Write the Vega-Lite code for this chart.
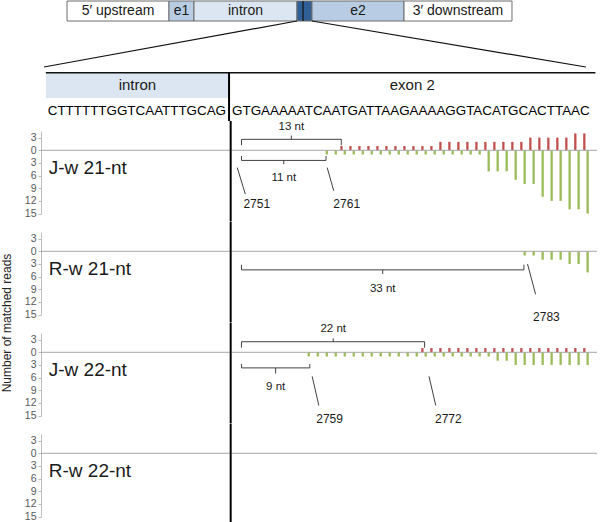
{
  "$schema": "https://vega.github.io/schema/vega-lite/v6.json",
  "padding": 0,
  "spacing": 0,
  "bounds": "flush",
  "config": {
    "view": {"stroke": null},
    "font": "Liberation Sans",
    "text": {"font": "Liberation Sans"}
  },
  "vconcat": [
    {
      "width": 556,
      "height": 70,
      "data": {"values": [
        {"region": "5′ upstream", "type": "flank", "start": 4.68, "end": 23.02},
        {"region": "e1", "type": "exon", "start": 23.02, "end": 27.52},
        {"region": "intron", "type": "intron", "start": 27.52, "end": 46.04},
        {"region": "", "type": "focus", "start": 46.04, "end": 48.74},
        {"region": "e2", "type": "exon", "start": 48.74, "end": 65.29},
        {"region": "3′ downstream", "type": "flank", "start": 65.29, "end": 84.71}
      ]},
      "layer": [
        {
          "mark": {"type": "rect", "stroke": "#6d6d6d", "strokeWidth": 1},
          "encoding": {
            "x": {"field": "start", "type": "quantitative", "scale": {"domain": [0, 100], "nice": false, "zero": false}, "axis": null},
            "x2": {"field": "end"},
            "y": {"datum": 0.714, "type": "quantitative", "scale": {"domain": [0, 1], "nice": false}, "axis": null},
            "y2": {"datum": 1},
            "color": {"field": "type", "type": "nominal", "scale": {"domain": ["flank", "exon", "intron", "focus"], "range": ["#ffffff", "#b8cce4", "#dce6f2", "#2f5f94"]}, "legend": null}
          }
        },
        {
          "transform": [{"calculate": "(datum.start + datum.end) / 2", "as": "mid"}],
          "mark": {"type": "text", "fontSize": 14, "color": "#1a1a1a"},
          "encoding": {
            "x": {"field": "mid", "type": "quantitative"},
            "y": {"datum": 0.857, "type": "quantitative"},
            "text": {"field": "region"}
          }
        },
        {
          "data": {"values": [
            {"x": 47.12, "x2": 47.12, "y": 0.714, "y2": 1},
            {"x": 46.04, "x2": 0.54, "y": 0.714, "y2": 0.057},
            {"x": 48.74, "x2": 98.0, "y": 0.714, "y2": 0.057}
          ]},
          "mark": {"type": "rule", "color": "#111111", "strokeWidth": 1.2},
          "encoding": {
            "x": {"field": "x", "type": "quantitative"},
            "x2": {"field": "x2"},
            "y": {"field": "y", "type": "quantitative"},
            "y2": {"field": "y2"}
          }
        }
      ]
    },
    {
      "width": 556,
      "height": 50,
      "data": {"values": [
        {"region": "intron", "start": 2730.5, "end": 2750.5, "seq": "CTTTTTTGGTCAATTTGCAG"},
        {"region": "exon 2", "start": 2750.5, "end": 2790.5, "seq": "GTGAAAAATCAATGATTAAGAAAAGGTACATGCACTTAAC"}
      ]},
      "layer": [
        {
          "mark": {"type": "rect"},
          "encoding": {
            "x": {"field": "start", "type": "quantitative", "scale": {"domain": [2729.97, 2790.67], "nice": false, "zero": false}, "axis": null},
            "x2": {"field": "end"},
            "y": {"datum": 0.46, "type": "quantitative", "scale": {"domain": [0, 1], "nice": false}, "axis": null},
            "y2": {"datum": 0.966},
            "color": {"field": "region", "type": "nominal", "scale": {"domain": ["intron", "exon 2"], "range": ["#dce6f2", "#b9cde5"]}, "legend": null}
          }
        },
        {
          "transform": [{"calculate": "(datum.start + datum.end) / 2", "as": "mid"}],
          "mark": {"type": "text", "fontSize": 15, "color": "#1a1a1a"},
          "encoding": {
            "x": {"field": "mid", "type": "quantitative"},
            "y": {"datum": 0.713, "type": "quantitative"},
            "text": {"field": "region"}
          }
        },
        {
          "transform": [{"filter": "datum.region == 'intron'"}],
          "mark": {"type": "text", "fontSize": 13.4, "align": "right", "dx": -3, "color": "#000000"},
          "encoding": {
            "x": {"field": "end", "type": "quantitative"},
            "y": {"datum": 0.2, "type": "quantitative"},
            "text": {"field": "seq"}
          }
        },
        {
          "transform": [{"filter": "datum.region == 'exon 2'"}],
          "mark": {"type": "text", "fontSize": 13.4, "align": "left", "dx": 3, "color": "#000000"},
          "encoding": {
            "x": {"field": "start", "type": "quantitative"},
            "y": {"datum": 0.2, "type": "quantitative"},
            "text": {"field": "seq"}
          }
        },
        {
          "mark": {"type": "rule", "color": "#111111", "strokeWidth": 1.5},
          "encoding": {
            "x": {"field": "start", "type": "quantitative"},
            "x2": {"field": "end"},
            "y": {"datum": 0.966, "type": "quantitative"}
          }
        },
        {
          "transform": [{"filter": "datum.region == 'intron'"}],
          "mark": {"type": "rule", "color": "#000000", "strokeWidth": 2},
          "encoding": {
            "x": {"field": "end", "type": "quantitative"},
            "y": {"datum": 0.966, "type": "quantitative"},
            "y2": {"datum": 0}
          }
        }
      ]
    },
    {
      "data": {"values": [
        {"kind": "label", "panel": "J-w 21-nt", "pos": 2730.5, "v": -4.3, "text": "J-w 21-nt"},
        {"kind": "label", "panel": "R-w 21-nt", "pos": 2730.5, "v": -4.3, "text": "R-w 21-nt"},
        {"kind": "label", "panel": "J-w 22-nt", "pos": 2730.5, "v": -4.3, "text": "J-w 22-nt"},
        {"kind": "label", "panel": "R-w 22-nt", "pos": 2730.5, "v": -4.3, "text": "R-w 22-nt"},

        {"kind": "seg", "panel": "J-w 21-nt", "pos": 2751.7, "pos2": 2762.8, "v": 2.6, "v2": 2.6},
        {"kind": "seg", "panel": "J-w 21-nt", "pos": 2751.7, "pos2": 2751.7, "v": 2.6, "v2": 1.2},
        {"kind": "seg", "panel": "J-w 21-nt", "pos": 2762.8, "pos2": 2762.8, "v": 2.6, "v2": 1.2},
        {"kind": "seg", "panel": "J-w 21-nt", "pos": 2757.25, "pos2": 2757.25, "v": 2.6, "v2": 3.5},
        {"kind": "seg", "panel": "J-w 21-nt", "pos": 2751.7, "pos2": 2761.1, "v": -2.4, "v2": -2.4},
        {"kind": "seg", "panel": "J-w 21-nt", "pos": 2751.7, "pos2": 2751.7, "v": -2.4, "v2": -1.35},
        {"kind": "seg", "panel": "J-w 21-nt", "pos": 2761.1, "pos2": 2761.1, "v": -2.4, "v2": -1.35},
        {"kind": "seg", "panel": "J-w 21-nt", "pos": 2756.4, "pos2": 2756.4, "v": -2.4, "v2": -3.3},
        {"kind": "seg", "panel": "J-w 21-nt", "pos": 2751.23, "pos2": 2752.13, "v": -4.1, "v2": -10.4},
        {"kind": "seg", "panel": "J-w 21-nt", "pos": 2761.23, "pos2": 2761.96, "v": -4.1, "v2": -9.6},
        {"kind": "nt", "panel": "J-w 21-nt", "pos": 2757.25, "v": 5.4, "text": "13 nt"},
        {"kind": "nt", "panel": "J-w 21-nt", "pos": 2756.4, "v": -6.5, "text": "11 nt"},
        {"kind": "num", "panel": "J-w 21-nt", "pos": 2753.4, "v": -12.7, "text": "2751"},
        {"kind": "num", "panel": "J-w 21-nt", "pos": 2763.4, "v": -12.7, "text": "2761"},

        {"kind": "seg", "panel": "R-w 21-nt", "pos": 2751.7, "pos2": 2783.1, "v": -4.4, "v2": -4.4},
        {"kind": "seg", "panel": "R-w 21-nt", "pos": 2751.7, "pos2": 2751.7, "v": -4.4, "v2": -3.2},
        {"kind": "seg", "panel": "R-w 21-nt", "pos": 2783.1, "pos2": 2783.1, "v": -4.4, "v2": -3.2},
        {"kind": "seg", "panel": "R-w 21-nt", "pos": 2767.4, "pos2": 2767.4, "v": -4.4, "v2": -5.4},
        {"kind": "seg", "panel": "R-w 21-nt", "pos": 2783.5, "pos2": 2784.4, "v": -3.0, "v2": -10.2},
        {"kind": "nt", "panel": "R-w 21-nt", "pos": 2767.4, "v": -8.9, "text": "33 nt"},
        {"kind": "num", "panel": "R-w 21-nt", "pos": 2785.6, "v": -15.5, "text": "2783"},

        {"kind": "seg", "panel": "J-w 22-nt", "pos": 2751.7, "pos2": 2772.06, "v": 2.5, "v2": 2.5},
        {"kind": "seg", "panel": "J-w 22-nt", "pos": 2751.7, "pos2": 2751.7, "v": 2.5, "v2": 1.1},
        {"kind": "seg", "panel": "J-w 22-nt", "pos": 2772.06, "pos2": 2772.06, "v": 2.5, "v2": 1.1},
        {"kind": "seg", "panel": "J-w 22-nt", "pos": 2761.9, "pos2": 2761.9, "v": 2.5, "v2": 3.3},
        {"kind": "seg", "panel": "J-w 22-nt", "pos": 2751.7, "pos2": 2759.3, "v": -3.7, "v2": -3.7},
        {"kind": "seg", "panel": "J-w 22-nt", "pos": 2751.7, "pos2": 2751.7, "v": -3.7, "v2": -2.8},
        {"kind": "seg", "panel": "J-w 22-nt", "pos": 2759.3, "pos2": 2759.3, "v": -3.7, "v2": -2.8},
        {"kind": "seg", "panel": "J-w 22-nt", "pos": 2755.5, "pos2": 2755.5, "v": -3.7, "v2": -5.0},
        {"kind": "seg", "panel": "J-w 22-nt", "pos": 2759.56, "pos2": 2760.3, "v": -5.7, "v2": -12.6},
        {"kind": "seg", "panel": "J-w 22-nt", "pos": 2772.55, "pos2": 2773.3, "v": -5.7, "v2": -12.6},
        {"kind": "nt", "panel": "J-w 22-nt", "pos": 2761.9, "v": 5.6, "text": "22 nt"},
        {"kind": "nt", "panel": "J-w 22-nt", "pos": 2755.5, "v": -8.2, "text": "9 nt"},
        {"kind": "num", "panel": "J-w 22-nt", "pos": 2761.5, "v": -15.9, "text": "2759"},
        {"kind": "num", "panel": "J-w 22-nt", "pos": 2774.7, "v": -15.9, "text": "2772"},

        {"kind": "bar", "panel": "J-w 21-nt", "pos": 2761, "v": -1},
        {"kind": "bar", "panel": "J-w 21-nt", "pos": 2762, "v": -1},
        {"kind": "bar", "panel": "J-w 21-nt", "pos": 2763, "v": -1},
        {"kind": "bar", "panel": "J-w 21-nt", "pos": 2764, "v": -1},
        {"kind": "bar", "panel": "J-w 21-nt", "pos": 2765, "v": -1},
        {"kind": "bar", "panel": "J-w 21-nt", "pos": 2766, "v": -1},
        {"kind": "bar", "panel": "J-w 21-nt", "pos": 2767, "v": -1},
        {"kind": "bar", "panel": "J-w 21-nt", "pos": 2768, "v": -1},
        {"kind": "bar", "panel": "J-w 21-nt", "pos": 2769, "v": -1},
        {"kind": "bar", "panel": "J-w 21-nt", "pos": 2770, "v": -1},
        {"kind": "bar", "panel": "J-w 21-nt", "pos": 2771, "v": -1},
        {"kind": "bar", "panel": "J-w 21-nt", "pos": 2772, "v": -1},
        {"kind": "bar", "panel": "J-w 21-nt", "pos": 2773, "v": -1},
        {"kind": "bar", "panel": "J-w 21-nt", "pos": 2774, "v": -1},
        {"kind": "bar", "panel": "J-w 21-nt", "pos": 2775, "v": -1},
        {"kind": "bar", "panel": "J-w 21-nt", "pos": 2776, "v": -1},
        {"kind": "bar", "panel": "J-w 21-nt", "pos": 2777, "v": -1},
        {"kind": "bar", "panel": "J-w 21-nt", "pos": 2778, "v": -1},
        {"kind": "bar", "panel": "J-w 21-nt", "pos": 2779, "v": -5},
        {"kind": "bar", "panel": "J-w 21-nt", "pos": 2780, "v": -5},
        {"kind": "bar", "panel": "J-w 21-nt", "pos": 2781, "v": -5},
        {"kind": "bar", "panel": "J-w 21-nt", "pos": 2782, "v": -7},
        {"kind": "bar", "panel": "J-w 21-nt", "pos": 2783, "v": -8},
        {"kind": "bar", "panel": "J-w 21-nt", "pos": 2784, "v": -8},
        {"kind": "bar", "panel": "J-w 21-nt", "pos": 2785, "v": -11},
        {"kind": "bar", "panel": "J-w 21-nt", "pos": 2786, "v": -12},
        {"kind": "bar", "panel": "J-w 21-nt", "pos": 2787, "v": -12},
        {"kind": "bar", "panel": "J-w 21-nt", "pos": 2788, "v": -14},
        {"kind": "bar", "panel": "J-w 21-nt", "pos": 2789, "v": -14},
        {"kind": "bar", "panel": "J-w 21-nt", "pos": 2790, "v": -15},
        {"kind": "bar", "panel": "J-w 21-nt", "pos": 2763, "v": 1},
        {"kind": "bar", "panel": "J-w 21-nt", "pos": 2764, "v": 1},
        {"kind": "bar", "panel": "J-w 21-nt", "pos": 2765, "v": 1},
        {"kind": "bar", "panel": "J-w 21-nt", "pos": 2766, "v": 1},
        {"kind": "bar", "panel": "J-w 21-nt", "pos": 2767, "v": 1},
        {"kind": "bar", "panel": "J-w 21-nt", "pos": 2768, "v": 1},
        {"kind": "bar", "panel": "J-w 21-nt", "pos": 2769, "v": 1},
        {"kind": "bar", "panel": "J-w 21-nt", "pos": 2770, "v": 1},
        {"kind": "bar", "panel": "J-w 21-nt", "pos": 2771, "v": 1},
        {"kind": "bar", "panel": "J-w 21-nt", "pos": 2772, "v": 1},
        {"kind": "bar", "panel": "J-w 21-nt", "pos": 2773, "v": 1},
        {"kind": "bar", "panel": "J-w 21-nt", "pos": 2774, "v": 2},
        {"kind": "bar", "panel": "J-w 21-nt", "pos": 2775, "v": 2},
        {"kind": "bar", "panel": "J-w 21-nt", "pos": 2776, "v": 2},
        {"kind": "bar", "panel": "J-w 21-nt", "pos": 2777, "v": 2},
        {"kind": "bar", "panel": "J-w 21-nt", "pos": 2778, "v": 2},
        {"kind": "bar", "panel": "J-w 21-nt", "pos": 2779, "v": 2},
        {"kind": "bar", "panel": "J-w 21-nt", "pos": 2780, "v": 2},
        {"kind": "bar", "panel": "J-w 21-nt", "pos": 2781, "v": 2},
        {"kind": "bar", "panel": "J-w 21-nt", "pos": 2782, "v": 2},
        {"kind": "bar", "panel": "J-w 21-nt", "pos": 2783, "v": 2},
        {"kind": "bar", "panel": "J-w 21-nt", "pos": 2784, "v": 3},
        {"kind": "bar", "panel": "J-w 21-nt", "pos": 2785, "v": 3},
        {"kind": "bar", "panel": "J-w 21-nt", "pos": 2786, "v": 3},
        {"kind": "bar", "panel": "J-w 21-nt", "pos": 2787, "v": 3},
        {"kind": "bar", "panel": "J-w 21-nt", "pos": 2788, "v": 3},
        {"kind": "bar", "panel": "J-w 21-nt", "pos": 2789, "v": 4},
        {"kind": "bar", "panel": "J-w 21-nt", "pos": 2790, "v": 4},

        {"kind": "bar", "panel": "R-w 21-nt", "pos": 2783, "v": -1},
        {"kind": "bar", "panel": "R-w 21-nt", "pos": 2784, "v": -1},
        {"kind": "bar", "panel": "R-w 21-nt", "pos": 2785, "v": -2},
        {"kind": "bar", "panel": "R-w 21-nt", "pos": 2786, "v": -2},
        {"kind": "bar", "panel": "R-w 21-nt", "pos": 2787, "v": -2},
        {"kind": "bar", "panel": "R-w 21-nt", "pos": 2788, "v": -3},
        {"kind": "bar", "panel": "R-w 21-nt", "pos": 2789, "v": -3},
        {"kind": "bar", "panel": "R-w 21-nt", "pos": 2790, "v": -5},

        {"kind": "bar", "panel": "J-w 22-nt", "pos": 2759, "v": -1},
        {"kind": "bar", "panel": "J-w 22-nt", "pos": 2760, "v": -1},
        {"kind": "bar", "panel": "J-w 22-nt", "pos": 2761, "v": -1},
        {"kind": "bar", "panel": "J-w 22-nt", "pos": 2762, "v": -1},
        {"kind": "bar", "panel": "J-w 22-nt", "pos": 2763, "v": -1},
        {"kind": "bar", "panel": "J-w 22-nt", "pos": 2764, "v": -1},
        {"kind": "bar", "panel": "J-w 22-nt", "pos": 2765, "v": -1},
        {"kind": "bar", "panel": "J-w 22-nt", "pos": 2766, "v": -1},
        {"kind": "bar", "panel": "J-w 22-nt", "pos": 2767, "v": -1},
        {"kind": "bar", "panel": "J-w 22-nt", "pos": 2768, "v": -1},
        {"kind": "bar", "panel": "J-w 22-nt", "pos": 2769, "v": -1},
        {"kind": "bar", "panel": "J-w 22-nt", "pos": 2770, "v": -1},
        {"kind": "bar", "panel": "J-w 22-nt", "pos": 2771, "v": -1},
        {"kind": "bar", "panel": "J-w 22-nt", "pos": 2772, "v": -1},
        {"kind": "bar", "panel": "J-w 22-nt", "pos": 2773, "v": -1},
        {"kind": "bar", "panel": "J-w 22-nt", "pos": 2774, "v": -1},
        {"kind": "bar", "panel": "J-w 22-nt", "pos": 2775, "v": -1},
        {"kind": "bar", "panel": "J-w 22-nt", "pos": 2776, "v": -1},
        {"kind": "bar", "panel": "J-w 22-nt", "pos": 2777, "v": -1},
        {"kind": "bar", "panel": "J-w 22-nt", "pos": 2778, "v": -1},
        {"kind": "bar", "panel": "J-w 22-nt", "pos": 2779, "v": -1},
        {"kind": "bar", "panel": "J-w 22-nt", "pos": 2780, "v": -2},
        {"kind": "bar", "panel": "J-w 22-nt", "pos": 2781, "v": -2},
        {"kind": "bar", "panel": "J-w 22-nt", "pos": 2782, "v": -3},
        {"kind": "bar", "panel": "J-w 22-nt", "pos": 2783, "v": -3},
        {"kind": "bar", "panel": "J-w 22-nt", "pos": 2784, "v": -3},
        {"kind": "bar", "panel": "J-w 22-nt", "pos": 2785, "v": -3},
        {"kind": "bar", "panel": "J-w 22-nt", "pos": 2786, "v": -3},
        {"kind": "bar", "panel": "J-w 22-nt", "pos": 2787, "v": -3},
        {"kind": "bar", "panel": "J-w 22-nt", "pos": 2788, "v": -3},
        {"kind": "bar", "panel": "J-w 22-nt", "pos": 2789, "v": -3},
        {"kind": "bar", "panel": "J-w 22-nt", "pos": 2790, "v": -3},
        {"kind": "bar", "panel": "J-w 22-nt", "pos": 2772, "v": 1},
        {"kind": "bar", "panel": "J-w 22-nt", "pos": 2773, "v": 1},
        {"kind": "bar", "panel": "J-w 22-nt", "pos": 2774, "v": 1},
        {"kind": "bar", "panel": "J-w 22-nt", "pos": 2775, "v": 1},
        {"kind": "bar", "panel": "J-w 22-nt", "pos": 2776, "v": 1},
        {"kind": "bar", "panel": "J-w 22-nt", "pos": 2777, "v": 1},
        {"kind": "bar", "panel": "J-w 22-nt", "pos": 2778, "v": 1},
        {"kind": "bar", "panel": "J-w 22-nt", "pos": 2779, "v": 1},
        {"kind": "bar", "panel": "J-w 22-nt", "pos": 2780, "v": 1},
        {"kind": "bar", "panel": "J-w 22-nt", "pos": 2781, "v": 1},
        {"kind": "bar", "panel": "J-w 22-nt", "pos": 2782, "v": 1},
        {"kind": "bar", "panel": "J-w 22-nt", "pos": 2783, "v": 1},
        {"kind": "bar", "panel": "J-w 22-nt", "pos": 2784, "v": 1},
        {"kind": "bar", "panel": "J-w 22-nt", "pos": 2785, "v": 1},
        {"kind": "bar", "panel": "J-w 22-nt", "pos": 2786, "v": 1},
        {"kind": "bar", "panel": "J-w 22-nt", "pos": 2787, "v": 1},
        {"kind": "bar", "panel": "J-w 22-nt", "pos": 2788, "v": 1},
        {"kind": "bar", "panel": "J-w 22-nt", "pos": 2789, "v": 1},
        {"kind": "bar", "panel": "J-w 22-nt", "pos": 2790, "v": 1}
      ]},
      "facet": {
        "row": {
          "field": "panel",
          "type": "nominal",
          "sort": ["J-w 21-nt", "R-w 21-nt", "J-w 22-nt", "R-w 22-nt"],
          "header": {"title": "Number of matched reads", "labels": false, "titleFont": "Liberation Sans", "titleFontSize": 12, "titleFontWeight": "normal", "titleColor": "#222222", "titlePadding": 0}
        }
      },
      "spacing": {"row": 0},
      "bounds": "flush",
      "spec": {
        "width": 556,
        "height": 100.5,
        "layer": [
          {
            "transform": [{"filter": "datum.kind == 'bar' && datum.v > 0"}],
            "mark": {"type": "bar", "width": 2.3, "xOffset": -1.65, "color": "#c0504d"},
            "encoding": {
              "x": {"field": "pos", "type": "quantitative", "scale": {"domain": [2729.97, 2790.67], "nice": false, "zero": false}, "axis": null},
              "y": {
                "field": "v",
                "type": "quantitative",
                "scale": {"domain": [-15, 4.57], "range": [92.6, 10], "nice": false, "zero": false},
                "axis": {"title": null, "values": [3, 0, -3, -6, -9, -12, -15], "tickCount": 10, "labelExpr": "abs(datum.value)", "grid": false, "domainColor": "#bdbdbd", "tickColor": "#bdbdbd", "tickSize": 3, "labelPadding": 2, "labelFontSize": 10.5, "labelColor": "#595959", "labelFont": "Liberation Sans", "labelOverlap": false, "labelFlush": false, "labelBound": false}
              }
            }
          },
          {
            "transform": [{"filter": "datum.kind == 'bar' && datum.v < 0"}],
            "mark": {"type": "bar", "width": 2.3, "xOffset": 1.65, "color": "#9bbb59"},
            "encoding": {
              "x": {"field": "pos", "type": "quantitative"},
              "y": {"field": "v", "type": "quantitative"}
            }
          },
          {
            "transform": [{"filter": "datum.kind == 'label'"}],
            "mark": {"type": "rule", "color": "#a6a6a6", "strokeWidth": 1},
            "encoding": {
              "y": {"datum": 0, "type": "quantitative"}
            }
          },
          {
            "transform": [{"filter": "datum.kind == 'label'"}],
            "mark": {"type": "rule", "color": "#000000", "strokeWidth": 2},
            "encoding": {
              "x": {"datum": 2750.5, "type": "quantitative"}
            }
          },
          {
            "transform": [{"filter": "datum.kind == 'seg'"}],
            "mark": {"type": "rule", "color": "#404040", "strokeWidth": 1},
            "encoding": {
              "x": {"field": "pos", "type": "quantitative"},
              "x2": {"field": "pos2"},
              "y": {"field": "v", "type": "quantitative"},
              "y2": {"field": "v2"}
            }
          },
          {
            "transform": [{"filter": "datum.kind == 'nt'"}],
            "mark": {"type": "text", "fontSize": 11.5, "color": "#1a1a1a"},
            "encoding": {
              "x": {"field": "pos", "type": "quantitative"},
              "y": {"field": "v", "type": "quantitative"},
              "text": {"field": "text"}
            }
          },
          {
            "transform": [{"filter": "datum.kind == 'num'"}],
            "mark": {"type": "text", "fontSize": 12, "color": "#1a1a1a"},
            "encoding": {
              "x": {"field": "pos", "type": "quantitative"},
              "y": {"field": "v", "type": "quantitative"},
              "text": {"field": "text"}
            }
          },
          {
            "transform": [{"filter": "datum.kind == 'label'"}],
            "mark": {"type": "text", "fontSize": 19, "align": "left", "dx": -2, "color": "#1a1a1a"},
            "encoding": {
              "x": {"field": "pos", "type": "quantitative"},
              "y": {"field": "v", "type": "quantitative"},
              "text": {"field": "text"}
            }
          }
        ]
      }
    }
  ]
}
